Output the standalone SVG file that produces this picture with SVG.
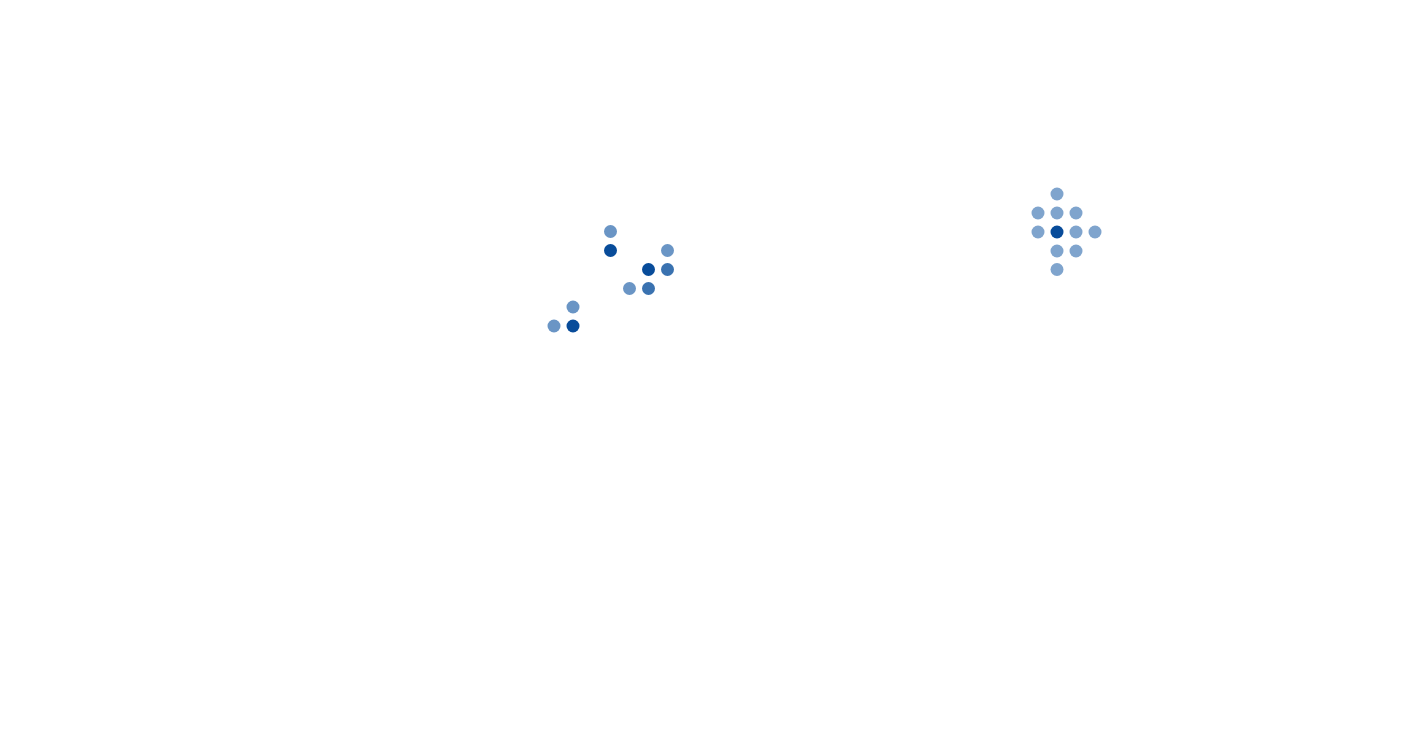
<svg xmlns="http://www.w3.org/2000/svg" width="1404" height="750" viewBox="0 0 1404 750">
<style>
.d{fill:#084c9a}
.m{fill:#3a72b0}
.l{fill:#6a95c5}
.p{fill:#7fa4cd}
circle{stroke:none}
</style>
<rect width="1404" height="750" fill="#ffffff"/>
<g id="cluster-a">
<circle class="l" cx="610.5" cy="231.5" r="6.5"/>
<circle class="d" cx="610.5" cy="250.5" r="6.5"/>
<circle class="l" cx="667.5" cy="250.5" r="6.5"/>
<circle class="d" cx="648.5" cy="269.5" r="6.5"/>
<circle class="m" cx="667.5" cy="269.5" r="6.5"/>
<circle class="l" cx="629.5" cy="288.5" r="6.5"/>
<circle class="m" cx="648.5" cy="288.5" r="6.5"/>
<circle class="l" cx="573" cy="307" r="6.5"/>
<circle class="l" cx="554" cy="326" r="6.5"/>
<circle class="d" cx="573" cy="326" r="6.5"/>
</g>
<g id="cluster-b">
<circle class="p" cx="1057" cy="194" r="6.5"/>
<circle class="p" cx="1038" cy="213" r="6.5"/>
<circle class="p" cx="1057" cy="213" r="6.5"/>
<circle class="p" cx="1076" cy="213" r="6.5"/>
<circle class="p" cx="1038" cy="232" r="6.5"/>
<circle class="d" cx="1057" cy="232" r="6.5"/>
<circle class="p" cx="1076" cy="232" r="6.5"/>
<circle class="p" cx="1095" cy="232" r="6.5"/>
<circle class="p" cx="1057" cy="251" r="6.5"/>
<circle class="p" cx="1076" cy="251" r="6.5"/>
<circle class="p" cx="1057" cy="269.5" r="6.5"/>
</g>
<g id="connectors"></g>
</svg>
